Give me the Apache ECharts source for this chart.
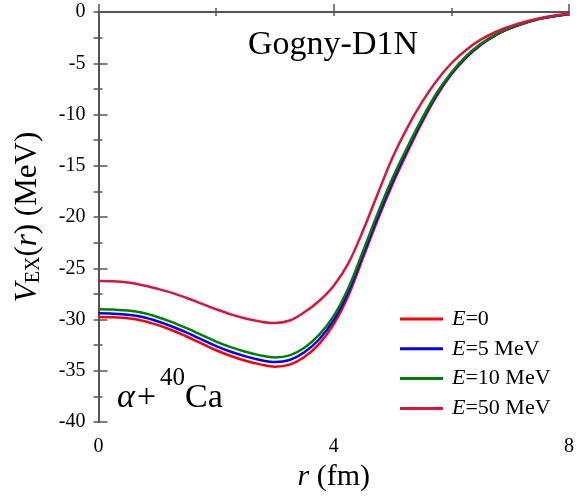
<!DOCTYPE html>
<html>
<head>
	<meta charset="UTF-8">
	<title>V_EX(r)</title>
	<script src="https://cdn.jsdelivr.net/npm/echarts@6/dist/echarts.min.js"></script>
	<style>
		html, body { margin: 0; padding: 0; background: #fff; }
	</style>
</head>
<body>
<div id="main" style="width: 577px;height:497px;"></div>
<script type="text/javascript">
	// r (fm)
	var rGrid = [0, 0.25, 0.5, 0.75, 1, 1.25, 1.5, 1.75, 2, 2.25, 2.5, 2.75, 3, 3.25, 3.5, 3.75, 4,
		4.25, 4.5, 4.75, 5, 5.25, 5.5, 5.75, 6, 6.25, 6.5, 6.75, 7, 7.25, 7.5, 7.75, 8];
	// V_EX (MeV)
	var vE0 = [-29.75, -29.78, -29.88, -30.12, -30.53, -31.05, -31.66, -32.33, -33.0, -33.56, -34.02, -34.38, -34.6,
		-34.4, -33.65, -32.4, -30.45, -27.65, -23.95, -20.25, -16.8, -13.7, -10.8, -8.2, -6.1, -4.47, -3.22,
		-2.28, -1.6, -1.08, -0.67, -0.41, -0.2];
	var vE5 = [-29.4, -29.43, -29.53, -29.76, -30.17, -30.68, -31.28, -31.94, -32.6, -33.15, -33.6, -33.95, -34.15,
		-33.95, -33.2, -31.95, -30.05, -27.3, -23.65, -19.95, -16.5, -13.45, -10.6, -8.05, -6.0, -4.4, -3.17,
		-2.25, -1.58, -1.07, -0.66, -0.41, -0.2];
	var vE10 = [-29.0, -29.03, -29.12, -29.35, -29.75, -30.25, -30.85, -31.5, -32.15, -32.7, -33.15, -33.5, -33.7,
		-33.5, -32.75, -31.5, -29.65, -26.9, -23.3, -19.6, -16.2, -13.2, -10.4, -7.9, -5.9, -4.3, -3.1,
		-2.2, -1.55, -1.05, -0.65, -0.4, -0.2];
	var vE50 = [-26.25, -26.28, -26.4, -26.65, -27.0, -27.4, -27.9, -28.45, -29.0, -29.5, -29.9, -30.2, -30.35,
		-30.1, -29.3, -28.2, -26.7, -24.5, -21.3, -17.7, -14.2, -11.3, -8.8, -6.7, -5.0, -3.7, -2.7,
		-1.95, -1.4, -0.95, -0.6, -0.35, -0.15];
	var seriesNames = ['E=0', 'E=5 MeV', 'E=10 MeV', 'E=50 MeV'];
	var seriesColors = ['#ff0000', '#0000ff', '#008000', '#dc143c'];

	var serif = 'Liberation Serif';
	var axisColor = '#555';

	function pairs(ys) {
		var arr = [];
		for (var i = 0; i < rGrid.length; i++) {
			arr.push([rGrid[i], ys[i]]);
		}
		return arr;
	}

	var myChart = echarts.init(document.getElementById('main'));

	var series = [];
	[vE0, vE5, vE10, vE50].forEach(function (ys, k) {
		series.push({
			name: seriesNames[k],
			type: 'line',
			data: pairs(ys),
			smooth: 0.35,
			showSymbol: false,
			lineStyle: { color: seriesColors[k], width: 2.5 },
			itemStyle: { color: seriesColors[k] },
			z: 3 + k
		});
	});

	var option = {
		animation: false,
		textStyle: { fontFamily: serif },
		grid: { left: 98.5, right: 5, top: 12, bottom: 72 },
		legend: {
			orient: 'vertical',
			left: 400,
			top: 308,
			padding: 0,
			icon: 'rect',
			itemWidth: 43,
			itemHeight: 3,
			itemGap: 7.8,
			data: seriesNames,
			formatter: function (name) {
				return '{i|E}{n|' + name.slice(1) + '}';
			},
			textStyle: {
				fontFamily: serif,
				color: '#000',
				padding: [0, 0, 0, 4],
				rich: {
					i: { fontFamily: serif, fontStyle: 'italic', fontSize: 22, lineHeight: 24, color: '#000' },
					n: { fontFamily: serif, fontSize: 22, lineHeight: 24, color: '#000' }
				}
			}
		},
		xAxis: [
			{
				type: 'value',
				min: 0,
				max: 8,
				interval: 4,
				name: '{i|r}{n| (fm)}',
				nameLocation: 'middle',
				nameGap: 40,
				nameTextStyle: {
					rich: {
						i: { fontFamily: serif, fontStyle: 'italic', fontSize: 30, color: '#000' },
						n: { fontFamily: serif, fontSize: 30, color: '#000' }
					}
				},
				axisLine: { lineStyle: { color: axisColor, width: 2 } },
				axisTick: { inside: true, length: 8, lineStyle: { color: axisColor, width: 1.5 } },
				minorTick: { show: true, splitNumber: 2, length: 4, lineStyle: { color: axisColor, width: 1.5 } },
				axisLabel: { fontFamily: serif, fontSize: 20, color: '#000', margin: 15 },
				splitLine: { show: false }
			},
			{
				type: 'value',
				position: 'top',
				min: 0,
				max: 8,
				interval: 2,
				axisLine: { lineStyle: { color: axisColor, width: 2 } },
				axisTick: { inside: true, length: 4, lineStyle: { color: axisColor, width: 1.5 } },
				axisLabel: { show: false },
				splitLine: { show: false }
			}
		],
		yAxis: [
			{
				type: 'value',
				min: -40,
				max: 0,
				interval: 5,
				name: '{v|V}{s|EX}{n|(}{i|r}{n|) (MeV)}',
				nameLocation: 'middle',
				nameGap: 55,
				nameTextStyle: {
					rich: {
						v: { fontFamily: serif, fontStyle: 'italic', fontSize: 31, color: '#000', lineHeight: 32 },
						s: { fontFamily: serif, fontSize: 20, color: '#000', verticalAlign: 'bottom', lineHeight: 20 },
						i: { fontFamily: serif, fontStyle: 'italic', fontSize: 31, color: '#000', lineHeight: 32 },
						n: { fontFamily: serif, fontSize: 31, color: '#000', lineHeight: 32 }
					}
				},
				axisLine: { lineStyle: { color: axisColor, width: 2 } },
				axisTick: { inside: true, length: 9, lineStyle: { color: axisColor, width: 1.5 } },
				minorTick: { show: true, splitNumber: 2, length: 4, lineStyle: { color: axisColor, width: 1.5 } },
				axisLabel: { fontFamily: serif, fontSize: 20, color: '#000', margin: 13 },
				splitLine: { show: false }
			},
			{
				type: 'value',
				position: 'right',
				min: -40,
				max: 0,
				interval: 2.5,
				axisLine: { lineStyle: { color: axisColor, width: 2 } },
				axisTick: { inside: true, length: 5, lineStyle: { color: axisColor, width: 1.5 } },
				axisLabel: { show: false },
				splitLine: { show: false }
			}
		],
		graphic: [
			{
				type: 'text', left: 248, top: 28, z: 10,
				style: { text: 'Gogny-D1N', font: "34px 'Liberation Serif', serif", fill: '#000' }
			},
			{
				type: 'text', left: 117, top: 381, z: 10,
				style: { text: 'α+', font: "italic 34px 'Liberation Serif', serif", fill: '#000' }
			},
			{
				type: 'text', left: 160, top: 366, z: 10,
				style: { text: '40', font: "25px 'Liberation Serif', serif", fill: '#000' }
			},
			{
				type: 'text', left: 185, top: 381, z: 10,
				style: { text: 'Ca', font: "34px 'Liberation Serif', serif", fill: '#000' }
			}
		],
		series: series
	};

	myChart.setOption(option);
</script>
</body>
</html>
